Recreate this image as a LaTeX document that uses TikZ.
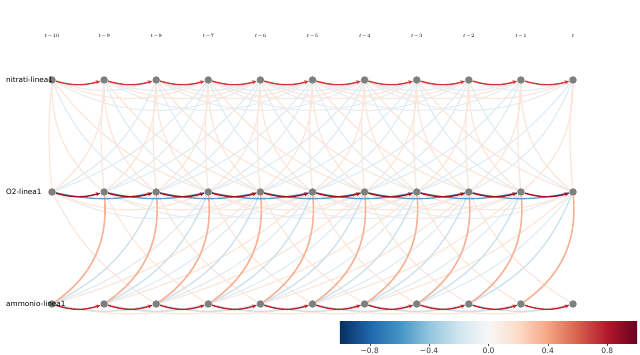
\documentclass[tikz,border=0pt]{standalone}
\usepackage{fontspec}
\setmainfont{DejaVu Sans}
\usetikzlibrary{arrows.meta,backgrounds}
\definecolor{nodegrey}{HTML}{7F7F7F}
\definecolor{wkr}{HTML}{FBE6DB}
\definecolor{wkb}{HTML}{E2ECF3}
\definecolor{wkg}{HTML}{EAEDF0}
\definecolor{ltb}{HTML}{CCE0EE}
\definecolor{orl}{HTML}{F7B395}
\definecolor{nred}{HTML}{D0383A}
\definecolor{ored}{HTML}{9E1028}
\definecolor{ared}{HTML}{C0252E}
\definecolor{obl}{HTML}{5A9BCB}
\definecolor{cb0}{HTML}{053061}
\definecolor{cb1}{HTML}{2166AC}
\definecolor{cb2}{HTML}{4393C3}
\definecolor{cb3}{HTML}{92C5DE}
\definecolor{cb4}{HTML}{D1E5F0}
\definecolor{cb5}{HTML}{F7F7F7}
\definecolor{cb6}{HTML}{FDDBC7}
\definecolor{cb7}{HTML}{F4A582}
\definecolor{cb8}{HTML}{D6604D}
\definecolor{cb9}{HTML}{B2182B}
\definecolor{cb10}{HTML}{67001F}
\newcommand\lagedges[5]{%
  \pgfmathtruncatemacro\lastsrc{10-#3}%
  \foreach \i in {0,...,\lastsrc}{%
    \pgfmathtruncatemacro\j{\i+#3}%
    \draw[#4] (#1\i) to[bend right=#5] (#2\j);
  }}
\tikzset{
  vnode/.style={circle,fill=nodegrey,inner sep=0pt,minimum size=7.5pt},
  varlab/.style={anchor=west,inner sep=0pt,font=\fontsize{7.3}{8}\selectfont},
  tlab/.style={inner sep=0pt,font=\fontsize{5.5}{6}\selectfont},
  cblab/.style={anchor=base,inner sep=0pt,font=\fontsize{7.5}{8}\selectfont,text=black!80},
  wkred/.style={draw=wkr,line width=1.2pt},
  wkblue/.style={draw=wkb,line width=1.2pt},
  wkgrey/.style={draw=wkg,line width=1.2pt},
  ltblue/.style={draw=ltb,line width=1.3pt},
  orlink/.style={draw=orl,line width=1.6pt},
  blueauto/.style={draw=obl,line width=1.3pt},
  redauto/.style={line width=1.4pt,-{Stealth[length=4.5pt,width=4pt]}},
}
\begin{document}
\begin{tikzpicture}[x=1pt,y=1pt]
\useasboundingbox (0,0) rectangle (640,355);
% nodes
\foreach \i in {0,...,10}{
  \pgfmathsetmacro\xx{52+52.1*\i}
  \node[vnode] (n\i) at (\xx,275) {};
  \node[vnode] (o\i) at (\xx,163) {};
  \node[vnode] (a\i) at (\xx,51) {};
}
\foreach \i in {0,...,9}{
  \pgfmathtruncatemacro\lag{10-\i}
  \node[tlab] (tl\i) at ({52+52.1*\i},319) {$t{-}\lag$};
}
\node[tlab] (tl10) at (573,319) {$t$};
\node[varlab] (vn) at (6,275) {nitrati-linea1};
\node[varlab] (vo) at (6,163) {O2-linea1};
\node[varlab] (va) at (6,51) {ammonio-linea1};
\begin{scope}[on background layer]
  % long-lag autolinks
  \lagedges{n}{n}{4}{wkgrey}{29}
  \lagedges{n}{n}{3}{wkred}{23}
  \lagedges{n}{n}{2}{wkblue}{19}
  \lagedges{o}{o}{4}{wkgrey}{25}
  \lagedges{o}{o}{3}{wkred}{22}
  \lagedges{a}{a}{3}{wkred}{12}
  % nitrati <-> O2
  \lagedges{n}{o}{3}{wkred}{15}
  \lagedges{o}{n}{3}{wkblue}{15}
  \lagedges{n}{o}{2}{wkblue}{20}
  \lagedges{o}{n}{2}{wkblue}{20}
  \lagedges{n}{o}{0}{wkred}{5}
  \lagedges{n}{o}{1}{wkred}{25}
  \lagedges{o}{n}{1}{wkred}{25}
  % O2 <-> ammonio
  \lagedges{a}{o}{4}{wkred}{12}
  \lagedges{o}{a}{2}{wkred}{15}
  \lagedges{a}{o}{3}{wkblue}{15}
  \lagedges{a}{o}{2}{ltblue}{20}
  \lagedges{a}{a}{2}{ltblue}{13}
  \lagedges{a}{o}{1}{orlink}{30}
  % strong autolinks
  \lagedges{o}{o}{2}{blueauto}{12}
  \lagedges{n}{n}{1}{redauto,draw=nred}{16}
  \lagedges{o}{o}{1}{redauto,draw=ored}{16}
  \lagedges{a}{a}{1}{redauto,draw=ared}{18}
\end{scope}
% colorbar
\foreach \k in {0,...,9}{
  \pgfmathtruncatemacro\kk{\k+1}
  \shade[left color=cb\k,right color=cb\kk] ({340+29.7*\k-0.2},11) rectangle ({340+29.7*\kk+0.2},33);
}
\foreach \v/\lab [count=\c] in {-0.8/{−0.8},-0.4/{−0.4},0/{0.0},0.4/{0.4},0.8/{0.8}}{
  \draw[black!70,line width=0.4pt] ({488.5+148.5*\v},11) -- ({488.5+148.5*\v},9);
  \node[cblab] (cbl\c) at ({488.5+148.5*\v},1.8) {\lab};
}
\end{tikzpicture}
\end{document}
